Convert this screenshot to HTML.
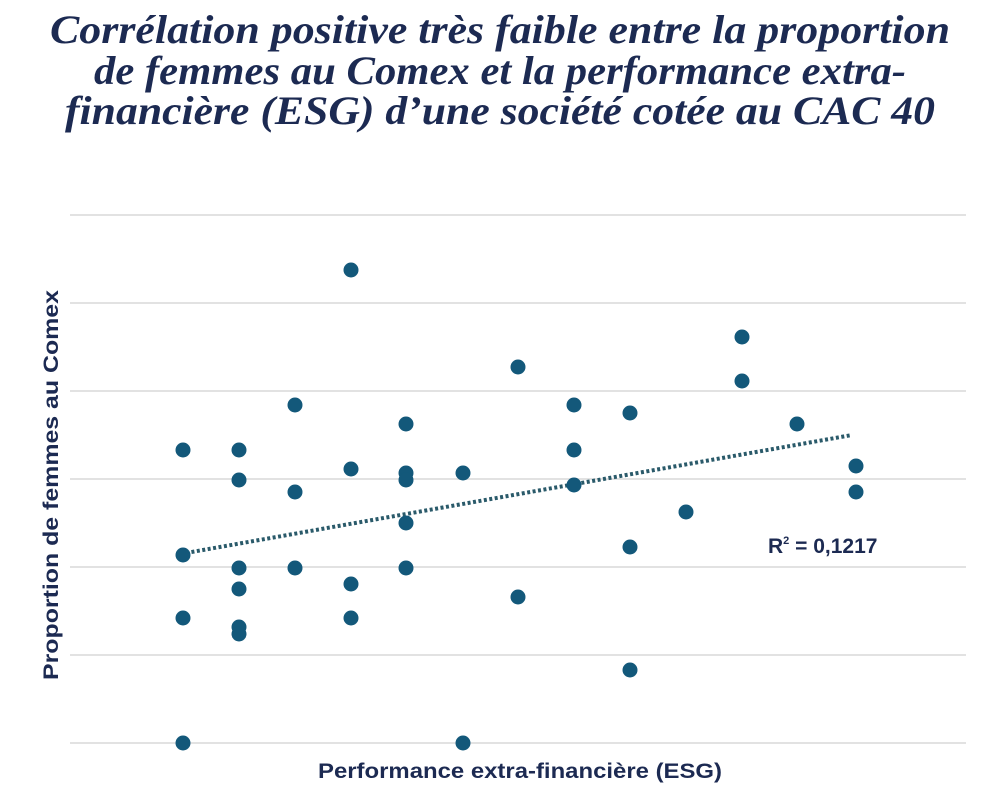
<!DOCTYPE html>
<html><head><meta charset="utf-8"><style>
html,body{margin:0;padding:0;background:#fff;width:996px;height:800px;overflow:hidden}
</style></head><body>
<svg width="996" height="800" xmlns="http://www.w3.org/2000/svg">
<g font-family="Liberation Serif, serif" font-style="italic" font-weight="bold" font-size="40" fill="#1c2a52" text-anchor="middle">
<text x="500" y="43" textLength="900" lengthAdjust="spacingAndGlyphs">Corrélation positive très faible entre la proportion</text>
<text x="500" y="84" textLength="812" lengthAdjust="spacingAndGlyphs">de femmes au Comex et la performance extra-</text>
<text x="500" y="124" textLength="870" lengthAdjust="spacingAndGlyphs">financière (ESG) d’une société cotée au CAC 40</text>
</g>
<g stroke="#e2e2e2" stroke-width="2">
<line x1="70" y1="215" x2="966" y2="215"/><line x1="70" y1="303" x2="966" y2="303"/>
<line x1="70" y1="391" x2="966" y2="391"/><line x1="70" y1="479" x2="966" y2="479"/>
<line x1="70" y1="567" x2="966" y2="567"/><line x1="70" y1="655" x2="966" y2="655"/>
<line x1="70" y1="743" x2="966" y2="743"/>
</g>
<line x1="186" y1="553" x2="852" y2="435" stroke="#2a5a6a" stroke-width="4" stroke-dasharray="3 2.5"/>
<g fill="#13587a">
<circle cx="183" cy="450" r="7.5"/><circle cx="183" cy="555" r="7.5"/><circle cx="183" cy="618" r="7.5"/><circle cx="183" cy="743" r="7.5"/>
<circle cx="239" cy="450" r="7.5"/><circle cx="239" cy="480" r="7.5"/><circle cx="239" cy="568" r="7.5"/><circle cx="239" cy="589" r="7.5"/><circle cx="239" cy="627" r="7.5"/><circle cx="239" cy="634" r="7.5"/>
<circle cx="295" cy="405" r="7.5"/><circle cx="295" cy="492" r="7.5"/><circle cx="295" cy="568" r="7.5"/>
<circle cx="351" cy="270" r="7.5"/><circle cx="351" cy="469" r="7.5"/><circle cx="351" cy="584" r="7.5"/><circle cx="351" cy="618" r="7.5"/>
<circle cx="406" cy="424" r="7.5"/><circle cx="406" cy="473" r="7.5"/><circle cx="406" cy="480" r="7.5"/><circle cx="406" cy="523" r="7.5"/><circle cx="406" cy="568" r="7.5"/>
<circle cx="463" cy="473" r="7.5"/><circle cx="463" cy="743" r="7.5"/>
<circle cx="518" cy="367" r="7.5"/><circle cx="518" cy="597" r="7.5"/>
<circle cx="574" cy="405" r="7.5"/><circle cx="574" cy="450" r="7.5"/><circle cx="574" cy="485" r="7.5"/>
<circle cx="630" cy="413" r="7.5"/><circle cx="630" cy="547" r="7.5"/><circle cx="630" cy="670" r="7.5"/>
<circle cx="686" cy="512" r="7.5"/>
<circle cx="742" cy="337" r="7.5"/><circle cx="742" cy="381" r="7.5"/>
<circle cx="797" cy="424" r="7.5"/>
<circle cx="856" cy="466" r="7.5"/><circle cx="856" cy="492" r="7.5"/>
</g>
<g font-family="Liberation Sans, sans-serif" font-weight="bold" fill="#1c2a52">
<text x="768" y="553" font-size="21">R<tspan font-size="11" dy="-9">2</tspan><tspan dy="9"> = 0,1217</tspan></text>
<text x="520" y="778" font-size="21" text-anchor="middle" textLength="404" lengthAdjust="spacingAndGlyphs">Performance extra-financière (ESG)</text>
<text transform="translate(58,485) rotate(-90)" font-size="21" text-anchor="middle" textLength="390" lengthAdjust="spacingAndGlyphs">Proportion de femmes au Comex</text>
</g>
</svg>
</body></html>
